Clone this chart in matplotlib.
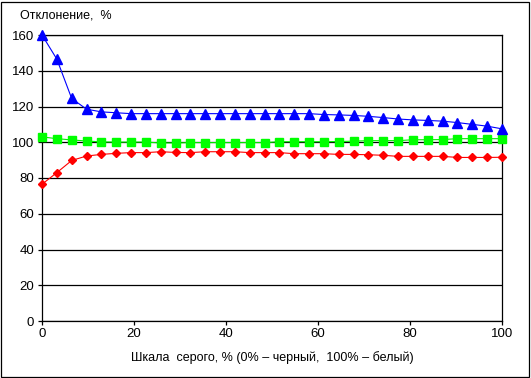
import numpy as np
import matplotlib
matplotlib.use("Agg")
import matplotlib.pyplot as plt

plt.rcParams['font.family'] = ['Liberation Sans', 'DejaVu Sans']

# шкала серого, 32 точки от 0 до 100 %
gray = np.linspace(0, 100, 32)

blue = [160, 146.5, 124.5, 118.5, 117, 116.5, 116, 116, 116, 116,
        116, 116, 116, 116, 116, 116, 116, 116, 116, 115.5,
        115.3, 115, 114.5, 113.8, 113, 112.5, 112.2, 111.8, 111, 110,
        109, 107.5]
green = [103, 102, 101.3, 100.7, 100.2, 100.1, 100.1, 100.1, 99.6, 99.6,
         99.8, 99.8, 99.8, 99.8, 99.8, 99.8, 100.3, 100.3, 100.3, 100.3,
         100.4, 100.6, 100.9, 100.9, 100.9, 101.4, 101.4, 101.5, 102, 102,
         102, 102]
red = [76.5, 83, 89.8, 92.3, 93.2, 93.8, 94.2, 94.2, 94.7, 94.3,
       94.2, 94.7, 94.7, 94.7, 94.2, 94.2, 94.2, 93.6, 93.6, 93.6,
       93.2, 93.2, 93, 92.7, 92.1, 92.1, 92.1, 92.1, 91.5, 91.5,
       91.5, 91.6]

yticks = [0, 20, 40, 60, 80, 100, 120, 140, 160]
xticks = [0, 20, 40, 60, 80, 100]

fig = plt.figure(figsize=(5.31, 3.78), dpi=100)
ax = fig.add_axes([42/531, 1 - 321/378, 460/531, 286/378])

ax.plot(gray, blue, color='#0000FF', lw=0.8, marker='^', ms=6.5, clip_on=False, zorder=5)
ax.plot(gray, green, color='#00EE00', lw=0.8, marker='s', ms=5.8, mfc='#00FF00', mec='#00FF00', clip_on=False, zorder=4)
ax.plot(gray, red, color='#FF0000', lw=0.8, marker='D', ms=4.2, clip_on=False, zorder=6)

ax.set_xlim(0, 100)
ax.set_ylim(0, 160)
ax.set_xticks(xticks)
ax.set_yticks(yticks)
ax.yaxis.grid(True, color='black', lw=0.9)
ax.set_axisbelow(True)
for s in ax.spines.values():
    s.set_color('black')
    s.set_linewidth(0.9)
ax.tick_params(axis='both', direction='out', length=3, width=0.9, labelsize=9.5)
ax.tick_params(axis='y', pad=2.5)
ax.tick_params(axis='x', pad=2)

fig.text(20/531, 1 - 15/378, 'Отклонение,  %', fontsize=9, va='center', ha='left')
fig.text(272/531, 1 - 358/378, 'Шкала  серого, % (0% – черный,  100% – белый)',
         fontsize=9, va='center', ha='center')

# рамка вокруг диаграммы
fig.patches.append(plt.Rectangle((1/531, 1/378), 528/531, 375/378, transform=fig.transFigure,
                                 fill=False, edgecolor='black', lw=0.9))

fig.savefig('out.png', dpi=100)
